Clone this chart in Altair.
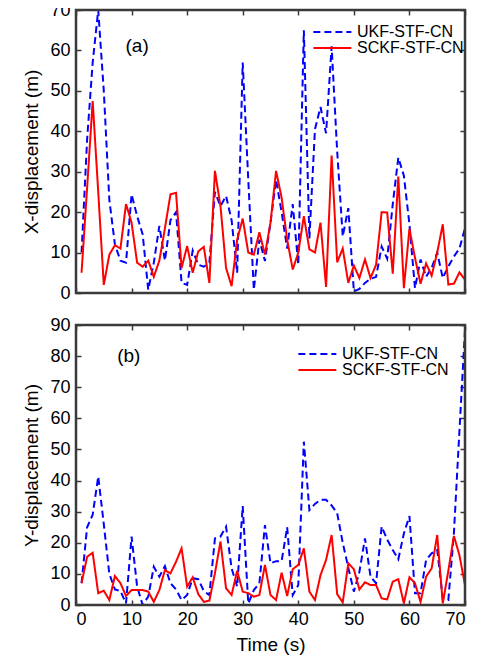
import altair as alt
import pandas as pd

# ---------------- data ----------------
TIME = list(range(1, 71))
SERIES = ["UKF-STF-CN", "SCKF-STF-CN"]
COLORS = ["#0000FF", "#FF0000"]

X_UKF = [10, 38, 57, 70, 50, 23, 12, 8, 7.5, 24.4,
         19, 14.5, 0.8, 7.5, 16.6, 8, 18, 20, 2.5, 2,
         10.5, 7, 6.5, 7.5, 25, 21.5, 24, 18, 5, 57,
         28, 0.8, 13.2, 7.9, 17.4, 28, 20, 11, 22, 7,
         65, 13.5, 40.5, 46, 39.5, 61, 35, 14, 21, 0.4,
         1, 2.5, 3.5, 4, 11.5, 8.5, 22, 33.5, 29, 17,
         1.2, 8.3, 4, 6.2, 10, 3.7, 6.6, 9, 11, 16]
X_SCKF = [5, 26, 47.5, 25, 2, 9.5, 11.8, 11, 22, 17.4,
          7.5, 6.5, 8, 4, 8, 16, 24.4, 24.8, 6.2, 11.6,
          5, 10.3, 11.4, 2.5, 30.2, 21.5, 6.2, 1.7, 13.2, 18.4,
          10, 9.5, 15, 9.5, 17.4, 30.2, 23.6, 13.2, 5.8, 10,
          19, 10.8, 10, 17.4, 1.5, 34, 7.6, 11, 2.5, 6.8,
          3.7, 8.3, 3.7, 7, 20, 19.9, 4.8, 28.8, 1.2, 15.9,
          8.7, 2.3, 7.3, 4.3, 10, 17, 2.1, 2.3, 5.1, 3.3]
Y_UKF = [7, 25, 29, 41.3, 26, 10, 5, 4.5, 0.5, 22,
         5.9, 0, 2.7, 12.3, 9.1, 12.5, 7, 5, 1.6, 3.2,
         8.6, 8.3, 4.5, 3.2, 21.4, 22, 25.2, 11.8, 5.9, 31.8,
         0.5, 4.8, 7, 25.7, 13.4, 14.1, 14.1, 25, 3.2, 6.4,
         52.5, 30.5, 32.5, 33.8, 33.8, 32, 29.5, 20, 12, 4.3,
         10.7, 21.4, 9.1, 7, 25.2, 21, 17.7, 14.7, 23, 28.6,
         3.8, 3.8, 14.5, 16.6, 17.7, 2.1, 1.6, 23, 56, 88.4]
Y_SCKF = [7, 15.5, 16.8, 3.8, 4.6, 1.6, 9.3, 7, 2.9, 4.8,
          4.8, 4.8, 4.3, 1, 4.8, 11.2, 10.2, 13.9, 18.2, 5.9,
          8.9, 3.5, 1, 1.4, 10.2, 20.4, 5.4, 3.2, 11, 4.3,
          3.8, 2.7, 3.2, 12.9, 3.2, 1.6, 10.4, 2.9, 11.5, 12.9,
          18.2, 4.3, 1.6, 9.6, 14.5, 22.5, 3.5, 0.8, 13.4, 11.5,
          5, 7.3, 6.4, 6.4, 2.1, 1.8, 7.5, 8.3, 0.5, 8.9,
          7, 1, 9.1, 11.8, 22.5, 0.5, 11, 22.2, 16, 6.4]

X_TICKS = [0, 10, 20, 30, 40, 50, 60, 70]
TOP_Y_TICKS = [0, 10, 20, 30, 40, 50, 60, 70]
BOT_Y_TICKS = [0, 10, 20, 30, 40, 50, 60, 70, 80, 90]
X_RANGE = [0, 70]
TOP_Y_RANGE = [0, 70]
BOT_Y_RANGE = [0, 90]

PANEL_LABELS = ["(a)", "(b)"]
PANEL_LABEL_T = [11, 9.5]
PANEL_LABEL_V = [61, 80]

FONT = "Liberation Sans"
LEGEND_LINE = "M-5,0H1"
INK = "#3a3a3a"


def long_df(ukf, sckf):
    return pd.DataFrame({
        "t": TIME + TIME,
        "v": ukf + sckf,
        "series": [SERIES[0]] * len(TIME) + [SERIES[1]] * len(TIME),
    })


def panel(ukf, sckf, yrange, yticks, ytitle, bottom, legx, legy, rowpad, idx, height):
    df = long_df(ukf, sckf)
    xs = alt.Scale(domain=X_RANGE, nice=False, zero=False)
    ys = alt.Scale(domain=yrange, nice=False, zero=False)
    leg = alt.Legend(orient="none", legendX=legx, legendY=legy, title=None,
                     symbolType=LEGEND_LINE, symbolSize=160, symbolStrokeWidth=2,
                     labelFont=FONT, labelFontSize=16, labelColor="black",
                     rowPadding=rowpad, padding=0, labelOffset=4)
    tick_kw = dict(domain=False, grid=False, tickSize=5, offset=-5,
                   tickColor=INK, tickWidth=1.5, minExtent=0)
    xaxis_kwargs = dict(orient="bottom", values=X_TICKS,
                        labelFont=FONT, labelFontSize=18, labelColor="black",
                        labelPadding=5, titleFont=FONT, titleFontSize=19,
                        titleFontWeight="normal", titleColor="black", titlePadding=7,
                        **tick_kw)
    if bottom:
        xaxis = alt.Axis(title="Time (s)", labels=True, **xaxis_kwargs)
    else:
        xaxis = alt.Axis(title=None, labels=False, **xaxis_kwargs)
    yaxis = alt.Axis(orient="left", values=yticks,
                     labelFont=FONT, labelFontSize=18, labelColor="black",
                     labelPadding=6, title=ytitle, titleFont=FONT, titleFontSize=19,
                     titleFontWeight="normal", titleColor="black", titlePadding=8,
                     **tick_kw)
    lines = alt.Chart(df).mark_line(strokeWidth=2, clip=True).encode(
        x=alt.X("t:Q", scale=xs, axis=xaxis),
        y=alt.Y("v:Q", scale=ys, axis=yaxis),
        color=alt.Color("series:N", scale=alt.Scale(domain=SERIES, range=COLORS), legend=leg),
        strokeDash=alt.StrokeDash("series:N",
                                  scale=alt.Scale(domain=SERIES, range=[[7, 4], [1, 0]]),
                                  legend=leg),
        order=alt.Order("t:Q"),
    )
    ticks = alt.Chart(df).mark_point(opacity=0).encode(
        x=alt.X("t:Q", scale=xs,
                axis=alt.Axis(orient="top", values=X_TICKS, labels=False, title=None,
                              **tick_kw)),
        y=alt.Y("v:Q", scale=ys,
                axis=alt.Axis(orient="right", values=yticks, labels=False, title=None,
                              **tick_kw)),
    )
    frame_df = pd.DataFrame({"x0": [X_RANGE[0]], "x1": [X_RANGE[1]],
                             "y0": [yrange[0]], "y1": [yrange[1]]})
    frame = alt.Chart(frame_df).mark_rect(filled=False, stroke=INK, strokeWidth=2.5).encode(
        x=alt.X("x0:Q", scale=xs, axis=None), x2="x1:Q",
        y=alt.Y("y0:Q", scale=ys, axis=None), y2="y1:Q",
    )
    lab = pd.DataFrame({"t": [PANEL_LABEL_T[idx]], "v": [PANEL_LABEL_V[idx]],
                        "txt": [PANEL_LABELS[idx]]})
    text = alt.Chart(lab).mark_text(font=FONT, fontSize=19, color="black",
                                    align="center", baseline="middle").encode(
        x=alt.X("t:Q", scale=xs, axis=None),
        y=alt.Y("v:Q", scale=ys, axis=None),
        text="txt:N",
    )
    return alt.layer(lines, ticks, frame, text).resolve_axis(
        x="independent", y="independent"
    ).properties(width=389, height=height)


top = panel(X_UKF, X_SCKF, TOP_Y_RANGE, TOP_Y_TICKS, "X-displacement (m)", False, 261, 14, -3, 0, 283)
bot = panel(Y_UKF, Y_SCKF, BOT_Y_RANGE, BOT_Y_TICKS, "Y-displacement (m)", True, 246, 21, 0, 1, 280)

chart = alt.vconcat(top, bot, spacing=32, bounds="flush").resolve_scale(
    color="independent", strokeDash="independent"
).properties(
    padding={"left": 13, "top": -8, "right": 0, "bottom": 0},
    background="white",
).configure_view(stroke=INK, strokeWidth=2)

chart.save("out.html", embed_options={"renderer": "svg", "actions": False})
